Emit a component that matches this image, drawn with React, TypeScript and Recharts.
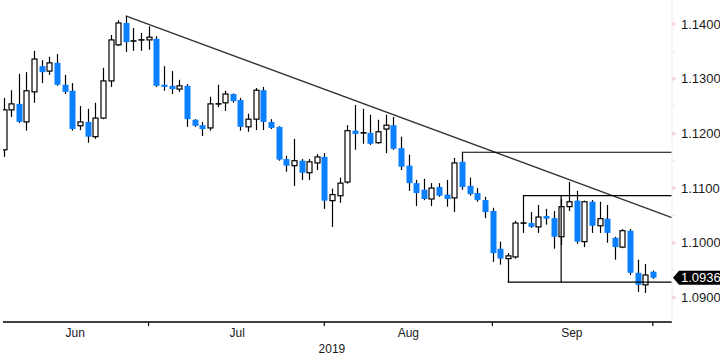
import React from 'react';
import { ComposedChart, Bar, XAxis, YAxis, ReferenceLine } from 'recharts';

// EUR/USD daily candles, 3 Jun - 30 Sep 2019 (trading days only)
const opens = [
  1.1170, 1.1243, 1.1254, 1.1221, 1.1276, 1.1323, 1.1314, 1.1329, 1.1289, 1.1278,
  1.1214, 1.1221, 1.1194, 1.1228, 1.1296, 1.1362, 1.1402, 1.1369, 1.1371, 1.1371,
  1.1373, 1.1289, 1.1287, 1.1281, 1.1287, 1.1225, 1.1215, 1.1210, 1.1254, 1.1256,
  1.1272, 1.1261, 1.1212, 1.1226, 1.1279, 1.1221, 1.1212, 1.1153, 1.1141, 1.1150,
  1.1128, 1.1146, 1.1157, 1.1077, 1.1086, 1.1111, 1.1205, 1.1201, 1.1201, 1.1183,
  1.1208, 1.1215, 1.1173, 1.1141, 1.1109, 1.1097, 1.1080, 1.1102, 1.1088, 1.1082,
  1.1148, 1.1104, 1.1091, 1.1078, 1.1058, 1.0989, 1.0971, 1.0974, 1.1036, 1.1036,
  1.1029, 1.1049, 1.1045, 1.1011, 1.1066, 1.1077, 1.1002, 1.1075, 1.1031, 1.1044,
  1.1009, 1.0992, 1.1022, 1.0945, 1.0923, 1.0947,
];
const highs = [
  1.1265, 1.1279, 1.1309, 1.1312, 1.1351, 1.1334, 1.1340, 1.1345, 1.1307, 1.1292,
  1.1250, 1.1245, 1.1256, 1.1320, 1.1380, 1.1407, 1.1415, 1.1393, 1.1384, 1.1396,
  1.1378, 1.1323, 1.1314, 1.1298, 1.1290, 1.1226, 1.1221, 1.1267, 1.1289, 1.1278,
  1.1273, 1.1265, 1.1236, 1.1283, 1.1285, 1.1226, 1.1213, 1.1159, 1.1190, 1.1153,
  1.1153, 1.1162, 1.1164, 1.1099, 1.1119, 1.1215, 1.1252, 1.1245, 1.1234, 1.1225,
  1.1234, 1.1230, 1.1194, 1.1161, 1.1115, 1.1117, 1.1109, 1.1109, 1.1115, 1.1155,
  1.11655, 1.1119, 1.1100, 1.1084, 1.1064, 1.1002, 1.0981, 1.1040, 1.10861, 1.1056,
  1.1069, 1.1062, 1.1058, 1.1080, 1.1111, 1.1095, 1.1077, 1.1078, 1.1075, 1.1069,
  1.1011, 1.1025, 1.1025, 1.0969, 1.0961, 1.0949,
];
const lows = [
  1.1157, 1.1230, 1.1219, 1.1205, 1.1256, 1.1292, 1.1307, 1.1287, 1.1272, 1.1205,
  1.1206, 1.1183, 1.1190, 1.1226, 1.1285, 1.1360, 1.1349, 1.1351, 1.1351, 1.1353,
  1.1285, 1.1278, 1.1272, 1.1276, 1.1212, 1.1212, 1.1195, 1.1205, 1.1248, 1.1241,
  1.1256, 1.1205, 1.1203, 1.1206, 1.1206, 1.1208, 1.1150, 1.1130, 1.1104, 1.1115,
  1.1115, 1.1133, 1.1062, 1.1029, 1.1073, 1.1108, 1.1170, 1.1181, 1.1179, 1.1181,
  1.1164, 1.1170, 1.1133, 1.1095, 1.1067, 1.1078, 1.1067, 1.1084, 1.1066, 1.1056,
  1.1097, 1.1086, 1.1075, 1.1045, 1.0965, 1.0960, 1.09278, 1.0971, 1.1018, 1.1027,
  1.1018, 1.1033, 1.0989, 1.0996, 1.1058, 1.0998, 1.0992, 1.1018, 1.1018, 1.1000,
  1.0969, 1.0990, 1.0941, 1.0910, 1.0908, 1.0934,
];
const closes = [
  1.1243, 1.1254, 1.1221, 1.1278, 1.1336, 1.1312, 1.1329, 1.1289, 1.1276, 1.1208,
  1.1221, 1.1194, 1.1228, 1.1296, 1.1371, 1.1402, 1.1367, 1.1369, 1.1371, 1.1376,
  1.1287, 1.1285, 1.1281, 1.1287, 1.1226, 1.1214, 1.1208, 1.1254, 1.1254, 1.1272,
  1.1259, 1.1212, 1.1226, 1.1279, 1.1221, 1.1210, 1.1152, 1.1141, 1.1150, 1.1128,
  1.1148, 1.1157, 1.1077, 1.1088, 1.1109, 1.1205, 1.1199, 1.1201, 1.1181, 1.1203,
  1.1215, 1.1172, 1.1139, 1.1109, 1.1091, 1.1080, 1.1100, 1.1086, 1.1080, 1.1146,
  1.1102, 1.1089, 1.1078, 1.1056, 1.0981, 1.0971, 1.0976, 1.1036, 1.1036, 1.1029,
  1.1047, 1.1044, 1.1011, 1.1066, 1.1075, 1.1002, 1.1075, 1.1031, 1.1044, 1.1018,
  1.0992, 1.1022, 1.0945, 1.0923, 1.0941, 1.0936,
];

const months = ['Jun', 'Jul', 'Aug', 'Sep'];
const monthLabelAt = [10.4, 31.6, 54, 75.4];
const monthEndAt = [20, 43, 65, 86];
const yearLabel = '2019';
const yearLabelAt = 44;

const majorTicks = [1.09, 1.1, 1.11, 1.12, 1.13, 1.14];
const minorTicks = [1.095, 1.105, 1.115, 1.125, 1.135];
const lastPrice = 1.0936;

// drawn annotations (trendline from the June high, horizontal levels, marker)
const trendStart = { x: 17, y: 1.1415 };
const trendEnd = { x: 88.5, y: 1.1046 };
const levelStarts = [61, 69, 67];
const levelValues = [1.11655, 1.10861, 1.09278];
const markerDay = 74;

const data = opens.map((o, k) => ({
  i: k + 1,
  open: o,
  high: highs[k],
  low: lows[k],
  close: closes[k],
}));

const BLUE = '#0a80ff';
const FONT = '"Liberation Sans", Arial, sans-serif';

const Candle = (props: any) => {
  const { x, y, width, height, payload } = props;
  if (!payload) return null;
  const { open, close, high, low } = payload;
  const top = Math.min(y, y + height);
  const h = Math.abs(height);
  const py = (v: number) => top + ((high - v) / (high - low)) * h;
  const cx = Math.round(x + width / 2) + 0.5;
  const bodyTop = py(Math.max(open, close));
  const bodyBot = py(Math.min(open, close));
  const doji = Math.abs(open - close) < 0.00005;
  return (
    <g>
      <line x1={cx} x2={cx} y1={top} y2={top + h} stroke="#000" strokeWidth={1.2} />
      {doji ? (
        <line x1={cx - 3} x2={cx + 3} y1={bodyTop} y2={bodyTop} stroke="#000" strokeWidth={1.6} />
      ) : close > open ? (
        <rect
          x={cx - 2.5}
          y={bodyTop}
          width={5}
          height={Math.max(bodyBot - bodyTop, 1)}
          fill="#fff"
          stroke="#000"
          strokeWidth={1.2}
        />
      ) : (
        <rect x={cx - 3} y={bodyTop} width={6} height={Math.max(bodyBot - bodyTop, 1.5)} fill={BLUE} />
      )}
    </g>
  );
};

const PriceTick = (props: any) => {
  const { x, y, payload } = props;
  const v = payload.value;
  const ax = x - 8;
  if (v === lastPrice) {
    return (
      <g>
        <polygon
          points={`${ax + 1},${y} ${ax + 7},${y - 7} ${ax + 48},${y - 7} ${ax + 48},${y + 7} ${ax + 7},${y + 7}`}
          fill="#000"
        />
        <text x={ax + 9} y={y + 4.5} fill="#fff" fontSize={13} fontFamily={FONT}>
          {v.toFixed(4)}
        </text>
      </g>
    );
  }
  if (minorTicks.includes(v)) {
    return <line x1={ax} x2={ax + 3} y1={y} y2={y} stroke="#f6e2e2" strokeWidth={1} />;
  }
  return (
    <g>
      <polygon points={`${ax},${y - 2.5} ${ax + 5},${y} ${ax},${y + 2.5}`} fill="#f6d6d6" />
      <text x={ax + 9} y={y + 4.5} fill="#1a1a1a" fontSize={13} fontFamily={FONT}>
        {v.toFixed(4)}
      </text>
    </g>
  );
};

const DateTick = (props: any) => {
  const { x, y, payload } = props;
  const v = payload.value;
  if (monthEndAt.includes(v)) {
    return <line x1={x} x2={x} y1={y} y2={y + 4} stroke="#000" strokeWidth={1.2} />;
  }
  if (v === yearLabelAt) {
    return (
      <text x={x} y={y + 31} textAnchor="middle" fill="#1a1a1a" fontSize={12} fontFamily={FONT}>
        {yearLabel}
      </text>
    );
  }
  return (
    <text x={x} y={y + 15} textAnchor="middle" fill="#1a1a1a" fontSize={12} fontFamily={FONT}>
      {months[monthLabelAt.indexOf(v)]}
    </text>
  );
};

export default function App() {
  return (
    <div style={{ position: 'absolute', left: 0, top: 0, width: 720, height: 360, background: '#fff' }}>
      <ComposedChart width={720} height={360} data={data} margin={{ top: 0, right: 0, bottom: 0, left: 3 }}>
        <XAxis
          dataKey="i"
          type="number"
          domain={[0.948, 88.51]}
          allowDataOverflow
          ticks={[...monthEndAt, ...monthLabelAt, yearLabelAt]}
          interval={0}
          tick={<DateTick />}
          tickLine={false}
          tickSize={0}
          tickMargin={0}
          height={38}
          axisLine={{ stroke: '#000', strokeWidth: 1.3 }}
        />
        <YAxis
          orientation="right"
          type="number"
          domain={[1.0855, 1.1444]}
          allowDataOverflow
          ticks={[...majorTicks, ...minorTicks, lastPrice]}
          interval={0}
          tick={<PriceTick />}
          tickLine={false}
          tickSize={6}
          tickMargin={2}
          width={48}
          axisLine={{ stroke: '#f4ecec' }}
        />
        <Bar
          dataKey={(d: any) => [d.low, d.high]}
          shape={<Candle />}
          barSize={6}
          isAnimationActive={false}
        />
        <ReferenceLine
          segment={[trendStart, trendEnd]}
          stroke="#333"
          strokeWidth={1.3}
        />
        {levelValues.map((v, k) => (
          <ReferenceLine
            key={k}
            segment={[
              { x: levelStarts[k], y: v },
              { x: 88.5, y: v },
            ]}
            stroke="#000"
            strokeWidth={1.2}
          />
        ))}
        <ReferenceLine
          segment={[
            { x: markerDay, y: levelValues[1] },
            { x: markerDay, y: levelValues[2] },
          ]}
          stroke="#000"
          strokeWidth={1.2}
        />
      </ComposedChart>
    </div>
  );
}
